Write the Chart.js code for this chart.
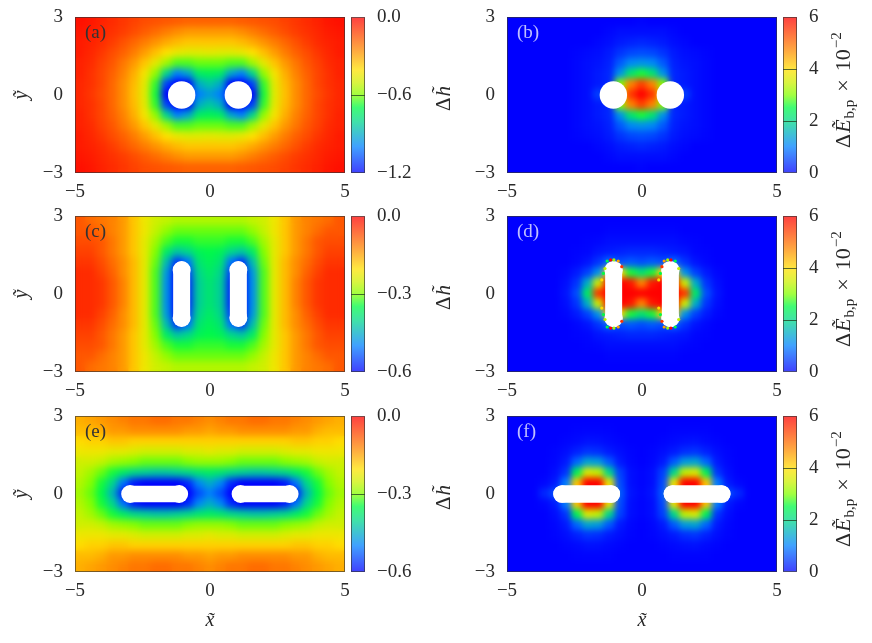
<!DOCTYPE html>
<html><head><meta charset="utf-8">
<style>html,body{margin:0;padding:0;background:#fff;width:872px;height:643px;overflow:hidden}canvas{position:absolute}</style>
<script src="https://cdn.jsdelivr.net/npm/chart.js@4/dist/chart.umd.min.js"></script>
</head><body>
<script>
const xCenters=[-4.8,-4.4,-4,-3.6,-3.2,-2.8,-2.4,-2,-1.6,-1.2,-.8,-.4,0,.4,.8,1.2,1.6,2,2.4,2.8,3.2,3.6,4,4.4,4.8];
const yCenters=[2.8,2.4,2,1.6,1.2,.8,.4,0,-.4,-.8,-1.2,-1.6,-2,-2.4,-2.8];
const xTicks=[-5,0,5];
const yTicks=[-3,0,3];
const cbarTicksA=[-1.2,-.6,0];
const cbarTicksC=[-.6,-.3,0];
const cbarTicksE=[-.6,-.3,0];
const cbarTicksRight=[0,2,4,6];
const panelNames=['(a)','(b)','(c)','(d)','(e)','(f)'];

const rowsA=[
[-.03,-.04,-.06,-.08,-.10,-.12,-.14,-.15,-.16,-.17,-.18,-.18,-.18,-.18,-.18,-.17,-.16,-.15,-.14,-.12,-.10,-.08,-.06,-.04,-.03],
[-.04,-.05,-.07,-.09,-.11,-.14,-.17,-.20,-.23,-.26,-.28,-.28,-.28,-.28,-.28,-.26,-.23,-.20,-.17,-.14,-.11,-.09,-.07,-.05,-.04],
[-.05,-.06,-.08,-.11,-.15,-.19,-.23,-.27,-.31,-.34,-.36,-.36,-.36,-.36,-.36,-.34,-.31,-.27,-.23,-.19,-.15,-.11,-.08,-.06,-.05],
[-.05,-.07,-.10,-.14,-.18,-.23,-.29,-.35,-.41,-.45,-.47,-.47,-.46,-.47,-.47,-.45,-.41,-.35,-.29,-.23,-.18,-.14,-.10,-.07,-.05],
[-.06,-.08,-.12,-.16,-.22,-.28,-.36,-.46,-.56,-.64,-.64,-.62,-.62,-.62,-.64,-.64,-.56,-.46,-.36,-.28,-.22,-.16,-.12,-.08,-.06],
[-.06,-.09,-.13,-.18,-.24,-.32,-.43,-.58,-.80,-1.0,-.92,-.74,-.72,-.74,-.92,-1.0,-.80,-.58,-.43,-.32,-.24,-.18,-.13,-.09,-.06],
[-.07,-.09,-.13,-.19,-.26,-.34,-.46,-.66,-1.1,-1.2,-1.2,-.9,-.84,-.9,-1.2,-1.2,-1.1,-.66,-.46,-.34,-.26,-.19,-.13,-.09,-.07],
[-.07,-.10,-.14,-.19,-.26,-.35,-.47,-.68,-1.2,-1.2,-1.2,-1.0,-.94,-1.0,-1.2,-1.2,-1.2,-.68,-.47,-.35,-.26,-.19,-.14,-.10,-.07],
[-.07,-.09,-.13,-.19,-.26,-.34,-.46,-.66,-1.1,-1.2,-1.2,-.9,-.84,-.9,-1.2,-1.2,-1.1,-.66,-.46,-.34,-.26,-.19,-.13,-.09,-.07],
[-.06,-.09,-.13,-.18,-.24,-.32,-.43,-.58,-.80,-1.0,-.92,-.74,-.72,-.74,-.92,-1.0,-.80,-.58,-.43,-.32,-.24,-.18,-.13,-.09,-.06],
[-.06,-.08,-.12,-.16,-.22,-.28,-.36,-.46,-.56,-.64,-.64,-.62,-.62,-.62,-.64,-.64,-.56,-.46,-.36,-.28,-.22,-.16,-.12,-.08,-.06],
[-.05,-.07,-.10,-.14,-.18,-.23,-.29,-.35,-.41,-.45,-.47,-.47,-.46,-.47,-.47,-.45,-.41,-.35,-.29,-.23,-.18,-.14,-.10,-.07,-.05],
[-.05,-.06,-.08,-.11,-.15,-.19,-.23,-.27,-.31,-.34,-.36,-.36,-.36,-.36,-.36,-.34,-.31,-.27,-.23,-.19,-.15,-.11,-.08,-.06,-.05],
[-.04,-.05,-.07,-.09,-.11,-.14,-.17,-.20,-.23,-.26,-.28,-.28,-.28,-.28,-.28,-.26,-.23,-.20,-.17,-.14,-.11,-.09,-.07,-.05,-.04],
[-.03,-.04,-.06,-.08,-.10,-.12,-.14,-.15,-.16,-.17,-.18,-.18,-.18,-.18,-.18,-.17,-.16,-.15,-.14,-.12,-.10,-.08,-.06,-.04,-.03]];

const rowsB=[
[0,0,0,0,0,0,0,0,0,0,0,0,.03,0,0,0,0,0,0,0,0,0,0,0,0],
[0,0,0,0,0,0,0,0,0,.05,.1,.1,.1,.1,.1,.05,0,0,0,0,0,0,0,0,0],
[0,0,0,0,0,0,0,0,.05,.1,.2,.25,.3,.25,.2,.1,.05,0,0,0,0,0,0,0,0],
[0,0,0,0,0,0,.03,.07,.1,.2,.4,.55,.6,.55,.4,.2,.1,.07,.03,0,0,0,0,0,0],
[0,0,0,0,0,0,.05,.1,.15,.25,.7,1.1,1.2,1.1,.7,.25,.15,.1,.05,0,0,0,0,0,0],
[0,0,0,0,0,0,.05,.1,.2,.3,1.2,2.2,2.6,2.2,1.2,.3,.2,.1,.05,0,0,0,0,0,0],
[0,0,0,0,0,0,.05,.1,.2,.3,3,4.8,5.4,4.8,3,.3,.2,.1,.05,0,0,0,0,0,0],
[0,0,0,0,0,0,.05,.1,.5,.3,4,5.5,6,5.5,4,.3,.5,.1,.05,0,0,0,0,0,0],
[0,0,0,0,0,0,.05,.1,.2,.3,3,4.8,5.4,4.8,3,.3,.2,.1,.05,0,0,0,0,0,0],
[0,0,0,0,0,0,.05,.1,.2,.3,1.2,2.2,2.6,2.2,1.2,.3,.2,.1,.05,0,0,0,0,0,0],
[0,0,0,0,0,0,.05,.1,.15,.25,.7,1.1,1.2,1.1,.7,.25,.15,.1,.05,0,0,0,0,0,0],
[0,0,0,0,0,0,.03,.07,.1,.2,.4,.55,.6,.55,.4,.2,.1,.07,.03,0,0,0,0,0,0],
[0,0,0,0,0,0,0,0,.05,.1,.2,.25,.3,.25,.2,.1,.05,0,0,0,0,0,0,0,0],
[0,0,0,0,0,0,0,0,0,.05,.1,.1,.1,.1,.1,.05,0,0,0,0,0,0,0,0,0],
[0,0,0,0,0,0,0,0,0,0,0,0,.03,0,0,0,0,0,0,0,0,0,0,0,0]];

const rowsC=[
[-.08,-.10,-.11,-.12,-.14,-.18,-.22,-.25,-.26,-.27,-.27,-.27,-.27,-.27,-.27,-.27,-.26,-.25,-.22,-.18,-.14,-.12,-.11,-.10,-.08],
[-.08,-.08,-.10,-.12,-.14,-.18,-.22,-.26,-.29,-.31,-.31,-.31,-.31,-.31,-.31,-.31,-.29,-.26,-.22,-.18,-.14,-.12,-.10,-.08,-.08],
[-.07,-.07,-.08,-.11,-.14,-.18,-.23,-.28,-.32,-.34,-.34,-.33,-.33,-.33,-.34,-.34,-.32,-.28,-.23,-.18,-.14,-.11,-.08,-.07,-.07],
[-.06,-.06,-.08,-.11,-.14,-.18,-.23,-.30,-.37,-.42,-.40,-.36,-.35,-.36,-.40,-.42,-.37,-.30,-.23,-.18,-.14,-.11,-.08,-.06,-.06],
[-.05,-.05,-.07,-.10,-.13,-.17,-.23,-.31,-.43,-.56,-.51,-.38,-.36,-.38,-.51,-.56,-.43,-.31,-.23,-.17,-.13,-.10,-.07,-.05,-.05],
[-.04,-.04,-.06,-.09,-.13,-.17,-.23,-.32,-.47,-.6,-.55,-.40,-.37,-.40,-.55,-.6,-.47,-.32,-.23,-.17,-.13,-.09,-.06,-.04,-.04],
[-.04,-.04,-.05,-.08,-.12,-.17,-.23,-.32,-.48,-.6,-.57,-.41,-.38,-.41,-.57,-.6,-.48,-.32,-.23,-.17,-.12,-.08,-.05,-.04,-.04],
[-.04,-.04,-.05,-.08,-.12,-.17,-.23,-.32,-.48,-.6,-.57,-.41,-.38,-.41,-.57,-.6,-.48,-.32,-.23,-.17,-.12,-.08,-.05,-.04,-.04],
[-.04,-.04,-.05,-.08,-.12,-.17,-.23,-.32,-.48,-.6,-.57,-.41,-.38,-.41,-.57,-.6,-.48,-.32,-.23,-.17,-.12,-.08,-.05,-.04,-.04],
[-.04,-.04,-.06,-.09,-.13,-.17,-.23,-.32,-.47,-.6,-.55,-.40,-.37,-.40,-.55,-.6,-.47,-.32,-.23,-.17,-.13,-.09,-.06,-.04,-.04],
[-.05,-.05,-.07,-.10,-.13,-.17,-.23,-.31,-.43,-.56,-.51,-.38,-.36,-.38,-.51,-.56,-.43,-.31,-.23,-.17,-.13,-.10,-.07,-.05,-.05],
[-.06,-.06,-.08,-.11,-.14,-.18,-.23,-.30,-.37,-.42,-.40,-.36,-.35,-.36,-.40,-.42,-.37,-.30,-.23,-.18,-.14,-.11,-.08,-.06,-.06],
[-.07,-.07,-.08,-.11,-.14,-.18,-.23,-.28,-.32,-.34,-.34,-.33,-.33,-.33,-.34,-.34,-.32,-.28,-.23,-.18,-.14,-.11,-.08,-.07,-.07],
[-.08,-.08,-.10,-.12,-.14,-.18,-.22,-.26,-.29,-.31,-.31,-.31,-.31,-.31,-.31,-.31,-.29,-.26,-.22,-.18,-.14,-.12,-.10,-.08,-.08],
[-.08,-.10,-.11,-.12,-.14,-.18,-.22,-.25,-.26,-.27,-.27,-.27,-.27,-.27,-.27,-.27,-.26,-.25,-.22,-.18,-.14,-.12,-.11,-.10,-.08]];

const rowsD=[
[0,0,0,0,0,0,0,0,0,0,0,0,0,0,0,0,0,0,0,0,0,0,0,0,0],
[0,0,0,0,0,0,0,0,0,.03,.03,.03,.03,.03,.03,.03,0,0,0,0,0,0,0,0,0],
[0,0,0,0,0,0,0,.02,.05,.1,.1,.1,.1,.1,.1,.1,.05,.02,0,0,0,0,0,0,0],
[0,0,0,0,0,0,.02,.05,.15,.2,.25,.3,.3,.3,.25,.2,.15,.05,.02,0,0,0,0,0,0],
[0,0,0,0,0,0,.05,.15,.4,.8,.6,.7,.6,.7,.6,.8,.4,.15,.05,0,0,0,0,0,0],
[0,0,0,0,0,.05,.2,.5,1.2,4,4,2.6,2.2,2.6,4,4,1.2,.5,.2,.05,0,0,0,0,0],
[0,0,0,0,0,.1,.4,1.5,3.5,6,6,5.8,4.8,5.8,6,6,3.5,1.5,.4,.1,0,0,0,0,0],
[0,0,0,0,0,.15,.6,2.3,5.5,6,6,6,6,6,6,6,5.5,2.3,.6,.15,0,0,0,0,0],
[0,0,0,0,0,.1,.4,1.5,3.5,6,6,5.8,4.8,5.8,6,6,3.5,1.5,.4,.1,0,0,0,0,0],
[0,0,0,0,0,.05,.2,.5,1.2,4,4,2.6,2.2,2.6,4,4,1.2,.5,.2,.05,0,0,0,0,0],
[0,0,0,0,0,0,.05,.15,.4,.8,.6,.7,.6,.7,.6,.8,.4,.15,.05,0,0,0,0,0,0],
[0,0,0,0,0,0,.02,.05,.15,.2,.25,.3,.3,.3,.25,.2,.15,.05,.02,0,0,0,0,0,0],
[0,0,0,0,0,0,0,.02,.05,.1,.1,.1,.1,.1,.1,.1,.05,.02,0,0,0,0,0,0,0],
[0,0,0,0,0,0,0,0,0,.03,.03,.03,.03,.03,.03,.03,0,0,0,0,0,0,0,0,0],
[0,0,0,0,0,0,0,0,0,0,0,0,0,0,0,0,0,0,0,0,0,0,0,0,0]];

const rowsE=[
[-.16,-.15,-.14,-.13,-.12,-.11,-.11,-.10,-.10,-.11,-.11,-.12,-.13,-.12,-.11,-.11,-.10,-.10,-.11,-.11,-.12,-.13,-.14,-.15,-.16],
[-.17,-.17,-.16,-.14,-.14,-.13,-.13,-.13,-.13,-.13,-.14,-.14,-.15,-.14,-.14,-.13,-.13,-.13,-.13,-.13,-.14,-.14,-.16,-.17,-.17],
[-.20,-.19,-.19,-.18,-.18,-.19,-.19,-.19,-.19,-.19,-.19,-.19,-.19,-.19,-.19,-.19,-.19,-.19,-.19,-.19,-.18,-.18,-.19,-.19,-.20],
[-.22,-.22,-.22,-.23,-.23,-.24,-.25,-.25,-.25,-.25,-.24,-.24,-.23,-.24,-.24,-.25,-.25,-.25,-.25,-.24,-.23,-.23,-.22,-.22,-.22],
[-.25,-.25,-.26,-.28,-.29,-.30,-.31,-.31,-.31,-.31,-.30,-.29,-.29,-.29,-.30,-.31,-.31,-.31,-.31,-.30,-.29,-.28,-.26,-.25,-.25],
[-.26,-.28,-.31,-.34,-.37,-.40,-.41,-.42,-.42,-.41,-.40,-.38,-.37,-.38,-.40,-.41,-.42,-.42,-.41,-.40,-.37,-.34,-.31,-.28,-.26],
[-.27,-.30,-.34,-.40,-.51,-.58,-.6,-.6,-.6,-.6,-.57,-.49,-.45,-.49,-.57,-.6,-.6,-.6,-.6,-.58,-.51,-.40,-.34,-.30,-.27],
[-.28,-.31,-.35,-.44,-.58,-.6,-.6,-.6,-.6,-.6,-.6,-.54,-.50,-.54,-.6,-.6,-.6,-.6,-.6,-.6,-.58,-.44,-.35,-.31,-.28],
[-.27,-.30,-.34,-.40,-.51,-.58,-.6,-.6,-.6,-.6,-.57,-.49,-.45,-.49,-.57,-.6,-.6,-.6,-.6,-.58,-.51,-.40,-.34,-.30,-.27],
[-.26,-.28,-.31,-.34,-.37,-.40,-.41,-.42,-.42,-.41,-.40,-.38,-.37,-.38,-.40,-.41,-.42,-.42,-.41,-.40,-.37,-.34,-.31,-.28,-.26],
[-.25,-.25,-.26,-.28,-.29,-.30,-.31,-.31,-.31,-.31,-.30,-.29,-.29,-.29,-.30,-.31,-.31,-.31,-.31,-.30,-.29,-.28,-.26,-.25,-.25],
[-.22,-.22,-.22,-.23,-.23,-.24,-.25,-.25,-.25,-.25,-.24,-.24,-.23,-.24,-.24,-.25,-.25,-.25,-.25,-.24,-.23,-.23,-.22,-.22,-.22],
[-.20,-.19,-.19,-.18,-.18,-.19,-.19,-.19,-.19,-.19,-.19,-.19,-.19,-.19,-.19,-.19,-.19,-.19,-.19,-.19,-.18,-.18,-.19,-.19,-.20],
[-.17,-.17,-.16,-.14,-.14,-.13,-.13,-.13,-.13,-.13,-.14,-.14,-.15,-.14,-.14,-.13,-.13,-.13,-.13,-.13,-.14,-.14,-.16,-.17,-.17],
[-.16,-.15,-.14,-.13,-.12,-.11,-.11,-.10,-.10,-.11,-.11,-.12,-.13,-.12,-.11,-.11,-.10,-.10,-.11,-.11,-.12,-.13,-.14,-.15,-.16]];

const rowsF=[
[0,0,0,0,0,0,0,0,0,0,0,0,0,0,0,0,0,0,0,0,0,0,0,0,0],
[0,0,0,0,0,0,.02,.03,.03,.02,0,0,0,0,0,.02,.03,.03,.02,0,0,0,0,0,0],
[0,0,0,0,0,.03,.07,.13,.12,.07,.03,0,0,0,.03,.07,.12,.13,.07,.03,0,0,0,0,0],
[0,0,0,0,.03,.1,.25,.4,.35,.2,.1,.03,0,.03,.1,.2,.35,.4,.25,.1,.03,0,0,0,0],
[0,0,0,0,.05,.2,.8,1.4,1.3,.7,.2,.05,0,.05,.2,.7,1.3,1.4,.8,.2,.05,0,0,0,0],
[0,0,0,0,.1,.4,2.4,3.6,3.4,2,.5,.1,.03,.1,.5,2,3.4,3.6,2.4,.4,.1,0,0,0,0],
[0,0,0,.05,.2,1,4.2,6,6,3.8,.6,.1,.03,.1,.6,3.8,6,6,4.2,1,.2,.05,0,0,0],
[0,0,0,.3,.6,1,4,6,6,3.8,.7,.15,.05,.15,.7,3.8,6,6,4,1,.6,.3,0,0,0],
[0,0,0,.05,.2,1,4.2,6,6,3.8,.6,.1,.03,.1,.6,3.8,6,6,4.2,1,.2,.05,0,0,0],
[0,0,0,0,.1,.4,2.4,3.6,3.4,2,.5,.1,.03,.1,.5,2,3.4,3.6,2.4,.4,.1,0,0,0,0],
[0,0,0,0,.05,.2,.8,1.4,1.3,.7,.2,.05,0,.05,.2,.7,1.3,1.4,.8,.2,.05,0,0,0,0],
[0,0,0,0,.03,.1,.25,.4,.35,.2,.1,.03,0,.03,.1,.2,.35,.4,.25,.1,.03,0,0,0,0],
[0,0,0,0,0,.03,.07,.13,.12,.07,.03,0,0,0,.03,.07,.12,.13,.07,.03,0,0,0,0,0],
[0,0,0,0,0,0,.02,.03,.03,.02,0,0,0,0,0,.02,.03,.03,.02,0,0,0,0,0,0],
[0,0,0,0,0,0,0,0,0,0,0,0,0,0,0,0,0,0,0,0,0,0,0,0,0]];

const holesCircleLeft=[{x:-1.05,y:0},{x:1.05,y:0}];
const holesCircleRight=[{x:-1.06,y:0},{x:1.05,y:0}];
const holesVertical=[{x:-1.05,y:-.92},{x:-1.05,y:.92},{x:null,y:null},{x:1.05,y:-.92},{x:1.05,y:.92}];
const holesHorizontal=[{x:-2.96,y:0},{x:-1.14,y:0},{x:null,y:null},{x:1.13,y:0},{x:2.95,y:0}];

const edgeDotsX=[-1.29,-1.16,-1.04,-.88,-1.37,-1.43,-1.49,-.75,-1.29,-1.16,-1.04,-.88,-1.37,-1.43,-1.49,-.75,.82,.95,1.07,1.23,.74,.68,.62,1.36,.82,.95,1.07,1.23,.74,.68,.62,1.36];
const edgeDotsY=[1.27,1.31,1.31,1.27,.98,.79,.54,1.05,-1.27,-1.31,-1.31,-1.27,-.98,-.79,-.54,-1.05,1.27,1.31,1.31,1.27,1.05,.79,.54,.98,-1.27,-1.31,-1.31,-1.27,-1.05,-.79,-.54,-.98];
const edgeDotsV=[2.5,6,3.2,4.5,3.4,2.5,4,5.5,2.5,6,3.2,4.5,3.4,2.5,4,5.5,4.5,3.2,6,2.5,5.5,2.5,4,3.4,4.5,3.2,6,2.5,5.5,2.5,4,3.4];

const cmap=[[0,0,0,255],[.17,0,130,255],[.33,0,215,140],[.42,0,250,70],[.5,130,255,0],[.58,205,240,0],[.66,255,225,0],[.8,255,130,0],[1,255,0,0]];
function rgb(t,a){t=Math.max(0,Math.min(1,t));let i=0;while(i<cmap.length-2&&t>cmap[i+1][0])i++;
 const p=cmap[i],q=cmap[i+1],f=(t-p[0])/(q[0]-p[0]);
 const c=[1,2,3].map(k=>Math.round(p[k]+(q[k]-p[k])*f));
 return a===undefined?`rgb(${c})`:`rgba(${c},${a})`;}

const FONT='"Liberation Serif",serif';
const INK='#2a2a2a';
const num=(v,d)=>(v<0?'\u2212':'')+Math.abs(v).toFixed(d);
function mk(left,top,w,h){const c=document.createElement('canvas');c.width=w;c.height=h;c.style.left=left+'px';c.style.top=top+'px';document.body.appendChild(c);return c.getContext('2d');}
function noPad(s){s.paddingLeft=s.paddingRight=s.paddingTop=s.paddingBottom=0;}

const frame={id:'frame',afterDraw(ch){const a=ch.chartArea,c=ch.ctx;c.save();c.strokeStyle='rgba(50,50,50,.65)';c.lineWidth=1;c.strokeRect(a.left+.5,a.top+.5,a.right-a.left-1,a.bottom-a.top-1);c.restore();}};

function rotated(c,x,y,pieces){c.save();c.translate(x,y);c.rotate(-Math.PI/2);c.fillStyle=INK;c.textBaseline='alphabetic';c.textAlign='left';let p=0;for(const s of pieces){c.font=s.f;c.fillText(s.t,p,s.dy||0);p+=c.measureText(s.t).width+(s.gap||0);}c.restore();}

function heat(o){
 const T=o.plotTop-12,H=o.bottom?238:200;
 const ctx=mk(o.left,T,o.width,H);
 const pts=[],cols=[];
 o.rows.forEach((r,j)=>r.forEach((v,i)=>{pts.push({x:xCenters[i],y:yCenters[j]});cols.push(rgb((v-o.lo)/(o.hi-o.lo)));}));
 const dots=(o.dots||[]).map(d=>({x:d.x,y:d.y}));
 const dotCols=(o.dots||[]).map(d=>rgb(d.v/6));
 const smooth={id:'smooth',afterDatasetDraw(ch,args){if(args.index!==2)return;const a=ch.chartArea,c=ch.ctx;c.save();c.beginPath();c.rect(a.left,a.top,a.right-a.left,a.bottom-a.top);c.clip();c.filter='blur('+o.blur+'px)';c.drawImage(ch.canvas,0,0);c.restore();}};
 new Chart(ctx,{type:'scatter',
  data:{datasets:[
   {data:dots,showLine:false,pointRadius:1.6,pointBorderWidth:0,pointBackgroundColor:dotCols},
   {data:o.holes,showLine:o.line>0,borderColor:'#fff',backgroundColor:'#fff',borderWidth:o.line,borderCapStyle:'round',spanGaps:false,pointRadius:o.dot,pointBackgroundColor:'#fff',pointBorderWidth:0},
   {data:pts,pointStyle:'rect',pointRadius:8.5,pointBorderWidth:0,pointBackgroundColor:cols,showLine:false,pointHoverRadius:8.5}]},
  options:{responsive:false,animation:false,devicePixelRatio:1,
   layout:{autoPadding:false,padding:{top:12,right:o.width-o.axisW-270,left:0,bottom:0}},
   plugins:{legend:{display:false},tooltip:{enabled:false}},
   scales:{
    x:{type:'linear',min:-5,max:5,afterBuildTicks:s=>{s.ticks=xTicks.map(v=>({value:v}));},
     ticks:{autoSkip:false,maxRotation:0,padding:8,color:INK,font:{family:FONT,size:19},callback:v=>num(v,0)},
     grid:{display:false,drawTicks:false},border:{display:false},
     title:{display:!!o.bottom,text:'x\u0303',color:INK,font:{family:FONT,size:20,style:'italic'},padding:{top:0,bottom:9}},
     afterFit:s=>{s.height=H-12-156;noPad(s);}},
    y:{type:'linear',min:-3,max:3,afterBuildTicks:s=>{s.ticks=yTicks.map(v=>({value:v}));},
     ticks:{autoSkip:false,padding:12,color:INK,font:{family:FONT,size:19},callback:v=>num(v,0)},
     grid:{display:false,drawTicks:false},border:{display:false},
     title:{display:!!o.yTitle,text:o.yTitle||'',color:INK,font:{family:FONT,size:20,style:'italic'},padding:{top:10,bottom:0}},
     afterFit:s=>{s.width=o.axisW;noPad(s);}}
   }},
  plugins:[smooth,frame,{id:'labels',afterDraw(ch){const c=ch.ctx;c.save();c.font='19px '+FONT;c.fillStyle=o.labelColor;c.textBaseline='middle';c.fillText(o.name,ch.chartArea.left+10,ch.chartArea.top+16);c.restore();
    if(o.deltaH){rotated(c,25,106,[{t:'\u0394',f:'21px '+FONT,gap:1},{t:'h\u0303',f:'italic 21px '+FONT}]);}}}]
 });
}

function cbar(o){
 const T=o.plotTop-12,H=200;
 const ctx=mk(o.left,T,o.width,H);
 new Chart(ctx,{type:'bar',
  data:{labels:[''],datasets:[{data:[[o.lo,o.hi]],barPercentage:1,categoryPercentage:1,borderWidth:0,
   backgroundColor:c=>{const a=c.chart.chartArea;if(!a)return '#888';const g=c.chart.ctx.createLinearGradient(0,a.bottom,0,a.top);cmap.forEach(s=>g.addColorStop(s[0],rgb(s[0],.75)));return g;}}]},
  options:{responsive:false,animation:false,devicePixelRatio:1,
   layout:{autoPadding:false,padding:{top:12,left:6,right:0,bottom:32}},
   plugins:{legend:{display:false},tooltip:{enabled:false}},
   scales:{
    x:{display:false,grid:{display:false}},
    y:{type:'linear',position:'right',min:o.lo,max:o.hi,afterBuildTicks:s=>{s.ticks=o.ticks.map(v=>({value:v}));},
     ticks:{autoSkip:false,padding:12,color:INK,font:{family:FONT,size:19},callback:v=>num(v,o.dec)},
     grid:{drawTicks:false,z:1,lineWidth:1,color:c=>(c.tick&&(c.tick.value===o.lo||c.tick.value===o.hi))?'rgba(0,0,0,0)':'rgba(30,60,30,.75)'},border:{display:false},
     afterFit:s=>{s.width=o.width-6-14;noPad(s);}}
   }},
  plugins:[frame,{id:'cbTitle',afterDraw(ch){if(!o.title)return;rotated(ch.ctx,73,143,[
    {t:'\u0394',f:'22px '+FONT,gap:1},{t:'E\u0303',f:'italic 22px '+FONT,gap:1},{t:'b,p',f:'15px '+FONT,dy:4,gap:8},{t:'\u00d7',f:'22px '+FONT,gap:8},{t:'10',f:'22px '+FONT,gap:1},{t:'\u22122',f:'15px '+FONT,dy:-9}]);}}]
 });
}

const edgeDots=edgeDotsX.map((x,i)=>({x,y:edgeDotsY[i],v:edgeDotsV[i]}));
const tops=[17,216,415.5];
const L=[rowsA,rowsC,rowsE],R=[rowsB,rowsD,rowsF];
const LR=[[-1.2,0,cbarTicksA,holesCircleLeft,0,13.7],[-.6,0,cbarTicksC,holesVertical,17,9],[-.6,0,cbarTicksE,holesHorizontal,16.5,8.9]];
const RH=[[holesCircleRight,0,13.7],[holesVertical,17,9.2],[holesHorizontal,17.7,8.85]];
tops.forEach((t,i)=>{
 heat({left:0,width:352,axisW:75,plotTop:t,bottom:i===2,rows:L[i],lo:LR[i][0],hi:LR[i][1],holes:LR[i][3],line:LR[i][4],dot:LR[i][5],blur:3.5,yTitle:'y\u0303',name:panelNames[i*2],labelColor:'#333'});
 cbar({left:345,width:90,plotTop:t,lo:LR[i][0],hi:LR[i][1],ticks:LR[i][2],dec:1});
 heat({left:425,width:359,axisW:82,plotTop:t,bottom:i===2,rows:R[i],lo:0,hi:6,holes:RH[i][0],line:RH[i][1],dot:RH[i][2],blur:3,dots:i===1?edgeDots:[],deltaH:true,name:panelNames[i*2+1],labelColor:'rgba(255,255,255,.75)'});
 cbar({left:777,width:95,plotTop:t,lo:0,hi:6,ticks:cbarTicksRight,dec:0,title:true});
});
</script>
</body></html>
